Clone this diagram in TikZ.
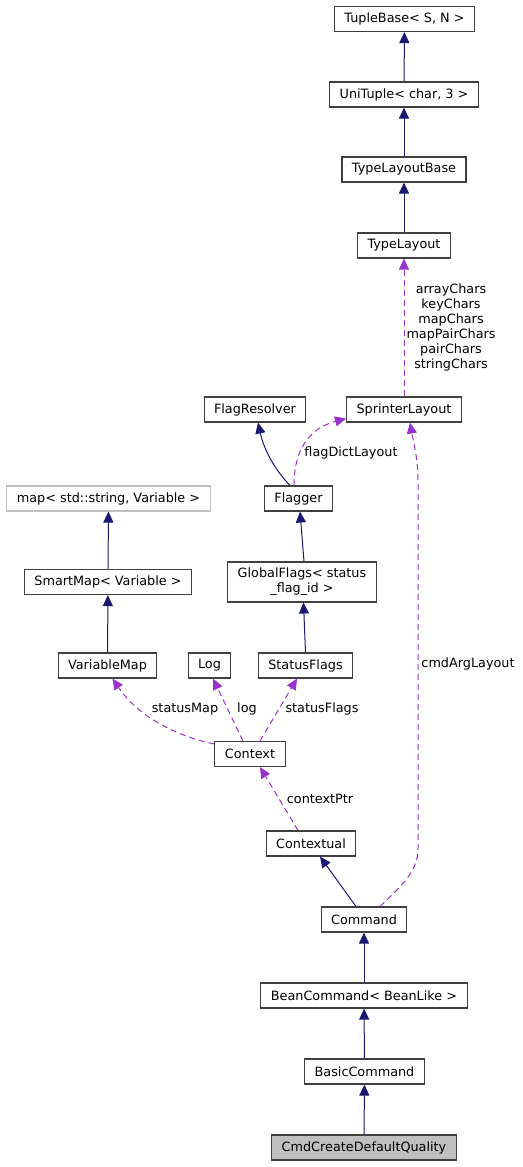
\documentclass[tikz,border=0pt]{standalone}
\usepackage{fontspec}
\setmainfont{DejaVu Sans}
\usetikzlibrary{arrows.meta}
\definecolor{edgeblue}{HTML}{191970}
\definecolor{edgepurple}{HTML}{9A32CD}
\definecolor{boxline}{HTML}{404040}
\begin{document}
\begin{tikzpicture}[x=1pt, y=-1pt,
    font=\fontsize{12.8}{15}\selectfont,
    classbox/.style={draw=boxline, line width=1.1pt, fill=white, minimum height=25pt, inner xsep=10pt, inner ysep=2pt, align=center},
    inherit/.style={edgeblue, line width=1pt, -{Triangle[width=10pt, length=11pt]}},
    member/.style={edgepurple, line width=1pt, dash pattern=on 6pt off 4pt, -{Triangle[width=10pt, length=11pt]}},
    lbl/.style={text=black, inner sep=1pt, align=center}]
    \useasboundingbox (0,0) rectangle (522,1167);

    % Classes
    \node[classbox] (tuplebase) at (404.5, 19) {TupleBase< S, N >};
    \node[classbox] (unituple) at (404, 94.5) {UniTuple< char, 3 >};
    \node[classbox] (layoutbase) at (404, 169.5) {TypeLayoutBase};
    \node[classbox] (typelayout) at (404, 245.5) {TypeLayout};
    \node[classbox] (sprinter) at (404, 409.5) {SprinterLayout};
    \node[classbox] (resolver) at (255, 409.5) {FlagResolver};
    \node[classbox] (flagger) at (298.5, 498.5) {Flagger};
    \node[classbox, draw=black!25] (stdmap) at (108.5, 498.5) {map< std::string, Variable >};
    \node[classbox] (smartmap) at (108, 582) {SmartMap< Variable >};
    \node[classbox, minimum height=40pt, inner ysep=1pt] (globalflags) at (302, 582) {GlobalFlags< status\\\_flag\_id >};
    \node[classbox] (varmap) at (107.5, 665.5) {VariableMap};
    \node[classbox] (log) at (209.5, 665.5) {Log};
    \node[classbox] (statusflags) at (305.5, 665.5) {StatusFlags};
    \node[classbox] (context) at (250, 754) {Context};
    \node[classbox] (contextual) at (311, 843.5) {Contextual};
    \node[classbox] (command) at (364, 919.5) {Command};
    \node[classbox] (beancmd) at (364, 995.5) {BeanCommand< BeanLike >};
    \node[classbox] (basiccmd) at (364.5, 1071.5) {BasicCommand};
    \node[classbox, fill=black!25] (cmdcreate) at (364, 1147.5) {CmdCreateDefaultQuality};

    % Inheritance
    \draw[inherit] (unituple) -- (tuplebase);
    \draw[inherit] (layoutbase) -- (unituple);
    \draw[inherit] (typelayout) -- (layoutbase);
    \draw[inherit] ([xshift=-8.5pt]flagger.north) .. controls (275,470) and (264,450) .. ([xshift=3pt]resolver.south);
    \draw[inherit] ([xshift=2pt]globalflags.north) -- ([xshift=1.5pt]flagger.south);
    \draw[inherit] (statusflags.north) -- ([xshift=1.5pt]globalflags.south);
    \draw[inherit] (smartmap) -- (stdmap);
    \draw[inherit] (varmap) -- (smartmap);
    \draw[inherit] ([xshift=-8pt]command.north) -- ([xshift=9pt]contextual.south);
    \draw[inherit] (beancmd) -- (command);
    \draw[inherit] (basiccmd) -- (beancmd);
    \draw[inherit] (cmdcreate) -- (basiccmd);

    % Members
    \draw[member] (sprinter) -- (typelayout)
        node[lbl, midway, right=1pt] {arrayChars\\keyChars\\mapChars\\mapPairChars\\pairChars\\stringChars};
    \draw[member] ([xshift=-4.5pt]flagger.north) .. controls (294,440) and (318,426) .. ([yshift=4pt]sprinter.south west);
    \node[lbl] (flagdictlbl) at (351, 453) {flagDictLayout};
    \draw[member] ([xshift=16pt]command.north) .. controls (402,885) and (418,872) .. (418,848)
        -- (418,480) .. controls (418,458) and (413,440) .. ([xshift=6pt]sprinter.south);
    \node[lbl] (cmdarglbl) at (468, 664) {cmdArgLayout};
    \draw[member] ([yshift=-3pt]context.north west) .. controls (170,735) and (135,712) .. ([xshift=5pt]varmap.south);
    \node[lbl] (statusmaplbl) at (185, 709) {statusMap};
    \draw[member] ([xshift=-7pt]context.north) -- ([xshift=3.5pt]log.south);
    \node[lbl] (loglbl) at (247, 709) {log};
    \draw[member] ([xshift=10pt]context.north) -- ([xshift=-8.5pt]statusflags.south);
    \node[lbl] (statusflagslbl) at (322, 709) {statusFlags};
    \draw[member] ([xshift=-13pt]contextual.north) -- ([xshift=10pt]context.south);
    \node[lbl] (contextptrlbl) at (320, 799) {contextPtr};
\end{tikzpicture}
\end{document}
